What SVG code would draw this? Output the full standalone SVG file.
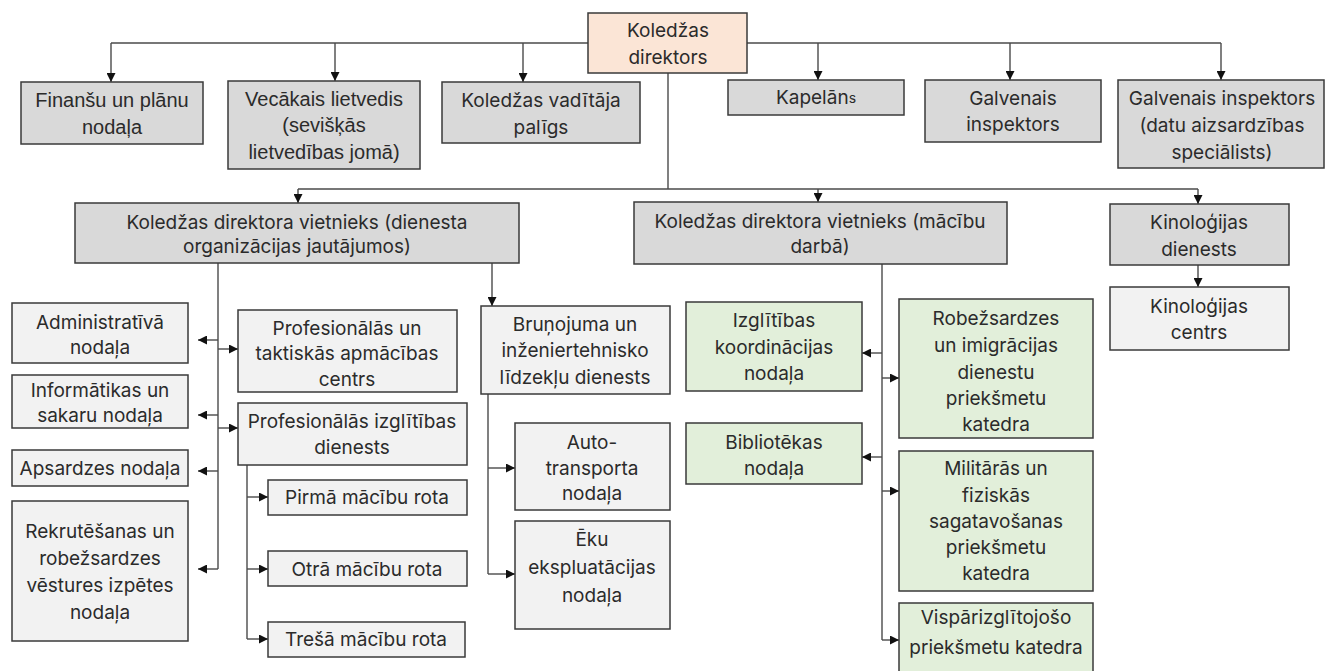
<svg xmlns="http://www.w3.org/2000/svg" width="1328" height="671" viewBox="0 0 1328 671">
<defs>
<marker id="arr" viewBox="0 0 10 10" refX="10" refY="5" markerWidth="10" markerHeight="9" markerUnits="userSpaceOnUse" orient="auto">
<path d="M0,0 L10,5 L0,10 z" fill="#111"/>
</marker>
<style>
rect{stroke:#3a3a3a;stroke-width:1.5}
.dk{fill:#d9d9d9}
.lt{fill:#f2f2f2}
.gr{fill:#e2efda}
.pc{fill:#fbe5d6}
text{font-family:Inter,"Noto Sans","DejaVu Sans",sans-serif;font-size:19px;fill:#2b2b2b;text-anchor:middle;dominant-baseline:central}
.ar{font-family:"Liberation Sans",Arial,sans-serif;font-size:20px}
#connectors path{fill:none;stroke:#4a4a4a;stroke-width:1.4}
#connectors path.a{marker-end:url(#arr)}
</style>
</defs>
<rect width="1328" height="671" fill="#fff" style="stroke:none"/>
<g id="connectors">
<path d="M588,43 H111"/>
<path class="a" d="M111,43 V82"/>
<path class="a" d="M335,43 V81"/>
<path class="a" d="M523,43 V82"/>
<path d="M747,43 H1221"/>
<path class="a" d="M818,43 V80"/>
<path class="a" d="M1010,43 V80"/>
<path class="a" d="M1221,43 V80"/>
<path d="M668,73 V189"/>
<path d="M298,189 H1198"/>
<path class="a" d="M298,189 V203"/>
<path class="a" d="M818,189 V202"/>
<path class="a" d="M1198,189 V204"/>
<path class="a" d="M1198,265 V287"/>
<path d="M218,263 V569"/>
<path class="a" d="M218,340 H198"/>
<path class="a" d="M218,415 H198"/>
<path class="a" d="M218,471 H198"/>
<path class="a" d="M218,569 H198"/>
<path class="a" d="M218,349 H238"/>
<path class="a" d="M218,428 H238"/>
<path class="a" d="M492,263 V306"/>
<path d="M247,465 V639"/>
<path class="a" d="M247,497 H268"/>
<path class="a" d="M247,569 H268"/>
<path class="a" d="M247,639 H268"/>
<path d="M488,394 V574"/>
<path class="a" d="M488,468 H515"/>
<path class="a" d="M488,574 H515"/>
<path d="M882,264 V640"/>
<path class="a" d="M882,353 H862"/>
<path class="a" d="M882,457 H862"/>
<path class="a" d="M882,378 H899"/>
<path class="a" d="M882,491 H899"/>
<path class="a" d="M882,640 H899"/>
</g>
<g id="dir"><rect class="pc" x="588" y="13" width="159" height="60"/><text x="668" y="30">Koledžas</text><text x="668" y="57">direktors</text></g>
<g id="fin"><rect class="dk" x="21" y="82" width="182" height="62"/><text class="ar" x="112" y="100">Finanšu un plānu</text><text class="ar" x="112" y="127">nodaļa</text></g>
<g id="vec"><rect class="dk" x="228" y="81" width="192" height="88"/><text class="ar" x="324" y="99">Vecākais lietvedis</text><text class="ar" x="324" y="125">(sevišķās</text><text class="ar" x="324" y="152">lietvedības jomā)</text></g>
<g id="pal"><rect class="dk" x="442" y="82" width="198" height="61"/><text x="541" y="100">Koledžas vadītāja</text><text x="541" y="127">palīgs</text></g>
<g id="kap"><rect class="dk" x="728" y="80" width="176" height="35"/><text x="816" y="97">Kapelān<tspan style="font-size:14px">s</tspan></text></g>
<g id="gi"><rect class="dk" x="925" y="80" width="176" height="62"/><text x="1013" y="98">Galvenais</text><text x="1013" y="124">inspektors</text></g>
<g id="gid"><rect class="dk" x="1118" y="80" width="206" height="88"/><text x="1222" y="98">Galvenais inspektors</text><text x="1222" y="125">(datu aizsardzības</text><text x="1222" y="152">speciālists)</text></g>
<g id="vd"><rect class="dk" x="75" y="203" width="444" height="60"/><text x="297" y="222">Koledžas direktora vietnieks (dienesta</text><text x="297" y="246">organizācijas jautājumos)</text></g>
<g id="vm"><rect class="dk" x="634" y="202" width="373" height="62"/><text x="820" y="221">Koledžas direktora vietnieks (mācību</text><text x="820" y="246">darbā)</text></g>
<g id="kd"><rect class="dk" x="1110" y="204" width="179" height="61"/><text x="1199" y="222">Kinoloģijas</text><text x="1199" y="249">dienests</text></g>
<g id="kc"><rect class="lt" x="1110" y="287" width="179" height="63"/><text x="1199" y="306">Kinoloģijas</text><text x="1199" y="332">centrs</text></g>
<g id="adm"><rect class="lt" x="12" y="303" width="176" height="60"/><text x="100" y="322">Administratīvā</text><text x="100" y="347">nodaļa</text></g>
<g id="inf"><rect class="lt" x="12" y="375" width="176" height="53"/><text x="100" y="390">Informātikas un</text><text x="100" y="415">sakaru nodaļa</text></g>
<g id="aps"><rect class="lt" x="12" y="450" width="176" height="36"/><text x="100" y="468">Apsardzes nodaļa</text></g>
<g id="rek"><rect class="lt" x="12" y="501" width="176" height="140"/><text x="100" y="531">Rekrutēšanas un</text><text x="100" y="558">robežsardzes</text><text x="100" y="585">vēstures izpētes</text><text x="100" y="612">nodaļa</text></g>
<g id="pt"><rect class="lt" x="238" y="310" width="219" height="82"/><text x="347" y="328">Profesionālās un</text><text x="347" y="353">taktiskās apmācības</text><text x="347" y="379">centrs</text></g>
<g id="pi"><rect class="lt" x="238" y="403" width="229" height="62"/><text x="352" y="421">Profesionālās izglītības</text><text x="352" y="447">dienests</text></g>
<g id="p1"><rect class="lt" x="268" y="480" width="199" height="35"/><text x="367" y="497">Pirmā mācību rota</text></g>
<g id="p2"><rect class="lt" x="268" y="551" width="199" height="35"/><text x="367" y="569">Otrā mācību rota</text></g>
<g id="p3"><rect class="lt" x="268" y="622" width="197" height="35"/><text x="366" y="639">Trešā mācību rota</text></g>
<g id="br"><rect class="lt" x="481" y="306" width="189" height="88"/><text x="575" y="324">Bruņojuma un</text><text x="575" y="350">inženiertehnisko</text><text x="575" y="377">līdzekļu dienests</text></g>
<g id="auto"><rect class="lt" x="515" y="423" width="155" height="87"/><text x="592" y="442">Auto-</text><text x="592" y="468">transporta</text><text x="592" y="493">nodaļa</text></g>
<g id="eku"><rect class="lt" x="515" y="521" width="155" height="108"/><text x="592" y="539">Ēku</text><text x="592" y="567">ekspluatācijas</text><text x="592" y="595">nodaļa</text></g>
<g id="ik"><rect class="gr" x="686" y="302" width="176" height="89"/><text x="774" y="320">Izglītības</text><text x="774" y="347">koordinācijas</text><text x="774" y="373">nodaļa</text></g>
<g id="bib"><rect class="gr" x="686" y="423" width="176" height="61"/><text x="774" y="442">Bibliotēkas</text><text x="774" y="468">nodaļa</text></g>
<g id="rob"><rect class="gr" x="899" y="299" width="194" height="139"/><text x="996" y="318">Robežsardzes</text><text x="996" y="345">un imigrācijas</text><text x="996" y="372">dienestu</text><text x="996" y="398">priekšmetu</text><text x="996" y="424">katedra</text></g>
<g id="mil"><rect class="gr" x="899" y="451" width="194" height="140"/><text x="996" y="468">Militārās un</text><text x="996" y="495">fiziskās</text><text x="996" y="521">sagatavošanas</text><text x="996" y="547">priekšmetu</text><text x="996" y="573">katedra</text></g>
<g id="vis"><rect class="gr" x="899" y="603" width="194" height="80"/><text x="996" y="617">Vispārizglītojošo</text><text x="996" y="647">priekšmetu katedra</text></g>
</svg>
